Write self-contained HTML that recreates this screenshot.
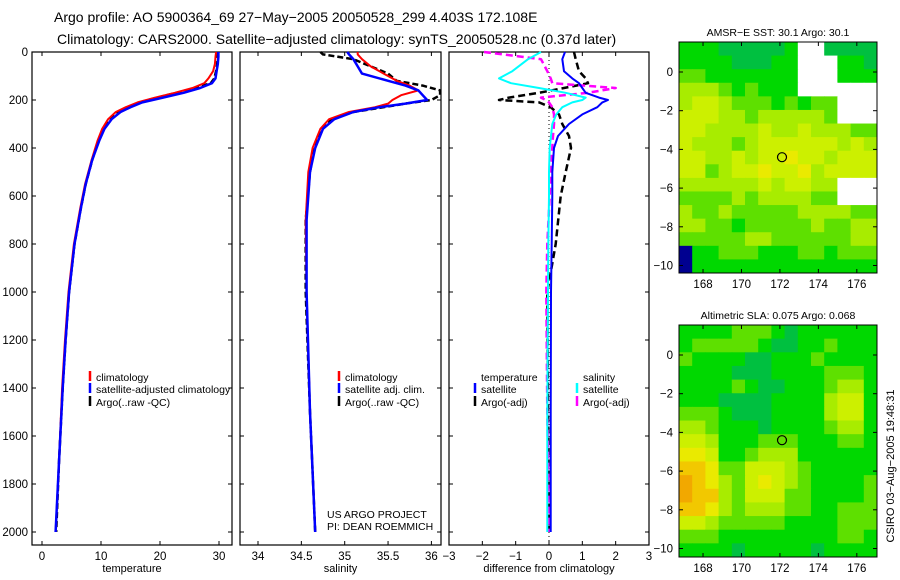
<!DOCTYPE html>
<html><head><meta charset="utf-8">
<style>
body{margin:0;background:#fff;}
svg{display:block;font-family:"Liberation Sans",sans-serif;}
</style></head>
<body>
<svg id="c" width="900" height="580" viewBox="0 0 900 580">
<text x="54" y="22" font-size="14">Argo profile: AO 5900364_69 27−May−2005 20050528_299 4.403S 172.108E</text>
<text x="57" y="44" font-size="14">Climatology: CARS2000. Satellite−adjusted climatology: synTS_20050528.nc (0.37d later)</text>
</svg>
<script>
// ---- profile data ----
const tDepth=[0,20,50,80,110,130,150,170,190,210,230,250,280,320,370,450,550,650,800,1000,1200,1400,1700,2000];
const tArgo=[29.8,29.8,29.7,29.5,29.2,28.6,26,22.8,19.5,16.5,14.5,13,11.6,10.5,9.6,8.5,7.4,6.6,5.5,4.6,4.0,3.5,2.9,2.4];
const tClim=[29.5,29.4,29.3,29.0,28.2,27.5,25.5,22.5,19.2,16.2,14.2,12.5,11.2,10.2,9.4,8.4,7.3,6.5,5.4,4.5,3.9,3.4,2.9,2.3];
const tSat=[29.9,29.9,29.8,29.6,29.4,28.8,26.8,24,20.5,17.0,15,13.3,11.8,10.6,9.7,8.5,7.4,6.6,5.5,4.6,4.0,3.5,2.9,2.3];
const sDepth=[0,10,30,60,90,120,140,160,180,200,215,230,250,280,320,400,500,700,1000,1500,2000];
const sArgo=[34.72,34.75,35.1,35.3,35.5,35.6,35.9,36.1,36.1,36.0,35.7,35.45,35.1,34.85,34.73,34.65,34.6,34.55,34.55,34.6,34.66];
const sClim=[35.15,35.15,35.2,35.3,35.45,35.6,35.75,35.85,35.65,35.55,35.5,35.35,35.05,34.82,34.72,34.63,34.58,34.55,34.56,34.6,34.66];
const sSat=[35.03,35.05,35.1,35.15,35.2,35.5,35.7,35.85,35.9,35.95,35.7,35.4,35.1,34.88,34.75,34.66,34.6,34.56,34.56,34.6,34.66];
const dDepth=[0,30,80,110,130,150,170,190,200,210,230,260,300,350,400,500,600,800,1000,1500,2000];
const dTempSat=[0.48,0.4,0.45,0.7,0.9,1.0,1.1,1.5,1.77,1.6,1.45,1.0,0.6,0.27,0.15,0.1,0.1,0.08,0.06,0.05,0.05];
const dTempArgo=[0.75,0.8,0.9,1.1,1.17,0.45,-0.3,-1.2,-1.5,-0.3,0.05,0.3,0.4,0.6,0.66,0.5,0.35,0.2,-0.05,-0.03,0];
const dSalSat=[-0.24,-0.63,-1.1,-1.5,-1.14,-0.3,0.5,1.1,1.0,0.7,0.4,0.22,0.1,0.06,0.02,0,0,-0.02,-0.03,-0.05,-0.05];
const dSalArgo=[-1.95,-0.24,-0.05,0.05,0.1,2.0,1.17,-0.24,-0.1,0,0.1,0.15,0.15,0.12,0.1,0.05,0.02,-0.05,-0.08,-0.05,0];
const depthTicks=[0,200,400,600,800,1000,1200,1400,1600,1800,2000];
const tTicks=[0,10,20,30];
const sTicks=[34,34.5,35,35.5,36];
const dTicks=[-3,-2,-1,0,1,2,3];
// ---- map data (rows top->bottom, cols west->east) ----
const sstRows=["111000001ww0000","111100011www110","221111111www111","333212111wwwwww","344322212122www","444332333332www","443333433433322","433323444444343","443343445443444","442344544534444","333333434433www","222232333322www","322322222333322","332212222232233","222223322222233","n11222111221222","n11111111111111"];
const slaRows=["111122210111111","122222100112111","211110011121111","111100011112221","111121001112331","111000011113441","222100011113441","332111011112331","443111222111221","554112333111111","665224443211111","765324543211112","766324442211112","665323332211222","443222221111222","222111111111221","111101111101111"];
const lonTicks=[168,170,172,174,176];
const latTicks=[0,-2,-4,-6,-8,-10];
const floatLon=172.108, floatLat=-4.403;

const NS="http://www.w3.org/2000/svg";
const svg=document.getElementById('c');
function mk(tag,attrs,parent){const e=document.createElementNS(NS,tag);for(const k in attrs)e.setAttribute(k,attrs[k]);(parent||svg).appendChild(e);return e;}
const TOP=52,BOT=545;
const yD=d=>TOP+d*0.24;
const panels=[
 {x0:32,x1:232,fx:v=>42+v*5.9,ticks:tTicks,label:'temperature',name:'temperature-panel'},
 {x0:240,x1:441,fx:v=>258+(v-34)*86.7,ticks:sTicks,label:'salinity',name:'salinity-panel'},
 {x0:449,x1:649,fx:v=>549+v*33.33,ticks:dTicks,label:'difference from climatology',name:'difference-panel'}
];
panels.forEach((p,i)=>{
 const g=mk('g',{});
 
 
 const r=mk('rect',{x:p.x0,y:TOP,width:p.x1-p.x0,height:BOT-TOP,fill:'none',stroke:'#000','stroke-width':1.2},g);
 
 
 p.ticks.forEach(t=>{
  const x=p.fx(t);
  mk('line',{x1:x,x2:x,y1:BOT,y2:BOT-4,stroke:'#000'},g);
  mk('line',{x1:x,x2:x,y1:TOP,y2:TOP+4,stroke:'#000'},g);
  const tx=mk('text',{x:x,y:BOT+15,'font-size':11.5,'text-anchor':'middle'},g);
  tx.textContent=(t<0?'−':'')+Math.abs(t);
  
  
 });
 depthTicks.forEach(d=>{
  const y=yD(d);
  mk('line',{x1:p.x0,x2:p.x0+4,y1:y,y2:y,stroke:'#000'},g);
  mk('line',{x1:p.x1,x2:p.x1-4,y1:y,y2:y,stroke:'#000'},g);
 });
 const lb=mk('text',{x:(p.x0+p.x1)/2,y:572,'font-size':11,'text-anchor':'middle'},g);
 lb.textContent=p.label;
 
 
});
depthTicks.forEach(d=>{
 const t=mk('text',{x:28,y:yD(d)+4,'font-size':11.5,'text-anchor':'end'});
 t.textContent=d;
 
 
});
function line(p,depths,vals,color,w,dash,name){
 const pts=depths.map((d,i)=>p.fx(vals[i]).toFixed(1)+','+yD(d).toFixed(1)).join(' ');
 const a={points:pts,fill:'none',stroke:color,'stroke-width':w,'stroke-linejoin':'round'};
 if(dash)a['stroke-dasharray']=dash;
 const e=mk('polyline',a);
 
 
}
const z=mk('line',{x1:panels[2].fx(0),x2:panels[2].fx(0),y1:TOP,y2:BOT,stroke:'#000','stroke-dasharray':'1,3'});


line(panels[0],tDepth,tArgo,'#000',2.5,'6,3','temp-argo-line');
line(panels[0],tDepth,tClim,'#f00',2,null,'temp-climatology-line');
line(panels[0],tDepth,tSat,'#00f',2.5,null,'temp-satellite-line');
line(panels[1],sDepth,sArgo,'#000',2.5,'6,3','sal-argo-line');
line(panels[1],sDepth,sClim,'#f00',2,null,'sal-climatology-line');
line(panels[1],sDepth,sSat,'#00f',2.5,null,'sal-satellite-line');
line(panels[2],dDepth,dTempArgo,'#000',2.5,'7,4','diff-temp-argo-line');
line(panels[2],dDepth,dSalArgo,'#f0f',2.5,'7,4','diff-sal-argo-line');
line(panels[2],dDepth,dSalSat,'#0ff',2,null,'diff-sal-satellite-line');
line(panels[2],dDepth,dTempSat,'#00f',2,null,'diff-temp-satellite-line');
function leg(x,y,color,txt,mark){
 if(mark){const m=mk('line',{x1:x,x2:x,y1:y-10,y2:y,stroke:color,'stroke-width':2.5});
  
  }
 const t=mk('text',{x:x+6,y:y,'font-size':10.5});
 t.textContent=txt;
 
 
}
leg(90,381,'#f00','climatology',1);leg(90,393,'#00f','satellite-adjusted climatology',1);leg(90,406,'#000','Argo(..raw -QC)',1);
leg(339,381,'#f00','climatology',1);leg(339,393,'#00f','satellite adj. clim.',1);leg(339,406,'#000','Argo(..raw -QC)',1);
leg(475,381,'#000','temperature',0);leg(475,393,'#00f','satellite',1);leg(475,406,'#000','Argo(-adj)',1);
leg(577,381,'#000','salinity',0);leg(577,393,'#0ff','satellite',1);leg(577,406,'#f0f','Argo(-adj)',1);
const c1=mk('text',{x:327,y:518,'font-size':10.5});c1.textContent='US ARGO PROJECT';


const c2=mk('text',{x:327,y:530,'font-size':10.5});c2.textContent='PI: DEAN ROEMMICH';


const pal={'0':'#00c040','1':'#00d800','2':'#5ee000','3':'#a8ec00','4':'#ccf000','5':'#eaea00','6':'#f2c800','7':'#f2a800','w':'#ffffff','n':'#000090'};
function map(rows,y0,y1,lat0,title,name){
 const x0=679,x1=877,lon0=166.75,lon1=177.05,lat1=lat0-(y1-y0)/19.35;
 const fx=l=>x0+(l-lon0)/(lon1-lon0)*(x1-x0);
 const fy=l=>y0+(lat0-l)/(lat0-lat1)*(y1-y0);
 const g=mk('g',{});
 
 
 const nr=rows.length,nc=rows[0].length,cw=(x1-x0)/nc,ch=(y1-y0)/nr;
 rows.forEach((r,i)=>{for(let j=0;j<nc;j++){
  const c=mk('rect',{x:x0+j*cw,y:y0+i*ch,width:cw+0.5,height:ch+0.5,fill:pal[r[j]]},g);
  
  
 }});
 mk('rect',{x:x0,y:y0,width:x1-x0,height:y1-y0,fill:'none',stroke:'#000'},g);
 lonTicks.forEach(l=>{const x=fx(l);
  mk('line',{x1:x,x2:x,y1:y1,y2:y1-4,stroke:'#000'},g);mk('line',{x1:x,x2:x,y1:y0,y2:y0+4,stroke:'#000'},g);
  const t=mk('text',{x:x,y:y1+15,'font-size':11.5,'text-anchor':'middle'},g);t.textContent=l;
  
  });
 latTicks.forEach(l=>{const y=fy(l);
  mk('line',{x1:x0,x2:x0+4,y1:y,y2:y,stroke:'#000'},g);mk('line',{x1:x1,x2:x1-4,y1:y,y2:y,stroke:'#000'},g);
  const t=mk('text',{x:x0-6,y:y+4,'font-size':11.5,'text-anchor':'end'},g);t.textContent=(l<0?'−':'')+Math.abs(l);
  
  });
 const c=mk('circle',{cx:fx(floatLon),cy:fy(floatLat),r:4.5,fill:'none',stroke:'#000','stroke-width':1.2},g);
 
 
 const t=mk('text',{x:(x0+x1)/2,y:y0-6,'font-size':10.5,'text-anchor':'middle'},g);t.textContent=title;
 
 
}
map(sstRows,42,273,1.55,'AMSR−E SST: 30.1 Argo: 30.1','sst-map');
map(slaRows,325,557,1.55,'Altimetric SLA: 0.075 Argo: 0.068','sla-map');
const st=mk('text',{x:0,y:0,'font-size':11,'text-anchor':'middle',transform:'translate(894,466) rotate(-90)'});
st.textContent='CSIRO 03−Aug−2005 19:48:31';


</script>
</body></html>
